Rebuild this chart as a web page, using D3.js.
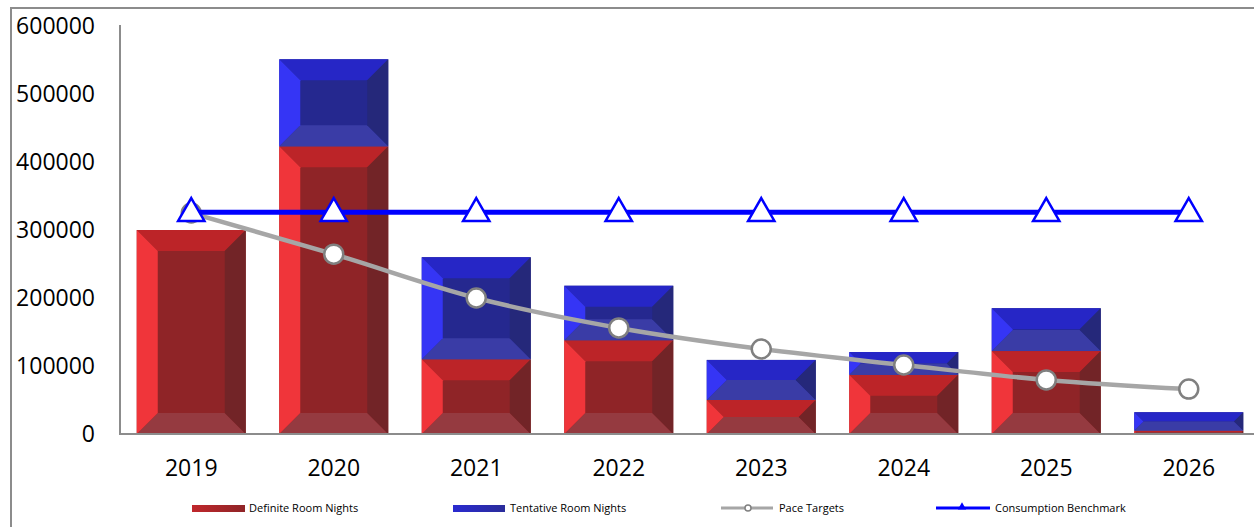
<!DOCTYPE html>
<html>
<head>
    <script src="https://d3js.org/d3.v7.min.js"></script>
    <style>
        body { margin: 0; background: #fff; }
        svg text { font-family: "Open Sans", "Noto Sans", sans-serif; fill: #000; }
        .legend text { font-size: 11px; }
    </style>
    <title>Room nights chart</title>
</head>
<body>
    <svg width="1254" height="527"></svg>
    <script>
        // data
        var years = ["2019", "2020", "2021", "2022", "2023", "2024", "2025", "2026"];
        var definite = [300000, 423000, 110000, 138000, 50000, 87000, 122000, 5000];
        var tentative = [0, 128000, 150000, 80000, 59000, 33500, 63000, 27000];
        var paceTargets = [325000, 264500, 200000, 156000, 125000, 101500, 79500, 66000];
        var benchmark = [326000, 326000, 326000, 326000, 326000, 326000, 326000, 326000];
        var yTicks = [0, 100000, 200000, 300000, 400000, 500000, 600000];

        var svg = d3.select("svg");

        // outer frame
        svg.append("rect")
            .attr("x", 11).attr("y", 8)
            .attr("width", 1300).attr("height", 600)
            .attr("fill", "none")
            .attr("stroke", "#8c8c8c")
            .attr("stroke-width", 2);

        var x = d3.scaleBand().domain(years).range([120, 1260])
            .paddingInner(0.235).paddingOuter(0.1175);
        var y = d3.scaleLinear().domain([0, 600000]).range([434, 26]);

        var red = { left: "#f0353a", top: "#bc2428", mid: "#8f2427", right: "#722427", bottom: "#953a40" };
        var blue = { left: "#3535f5", top: "#2626c6", mid: "#25288f", right: "#25287a", bottom: "#3a3ca6" };

        // beveled block, like the Excel "bevel" effect
        function bevelBlock(g, x0, y0, w, h, c) {
            if (h <= 0) return;
            var b = Math.min(21, h / 2, w / 2);
            var x1 = x0 + w, y1 = y0 + h;
            var pts = function (a) { return a.map(function (p) { return p.join(","); }).join(" "); };
            g.append("rect").attr("x", x0).attr("y", y0).attr("width", w).attr("height", h).attr("fill", c.mid);
            g.append("polygon").attr("fill", c.top)
                .attr("points", pts([[x0, y0], [x1, y0], [x1 - b, y0 + b], [x0 + b, y0 + b]]));
            g.append("polygon").attr("fill", c.bottom)
                .attr("points", pts([[x0, y1], [x1, y1], [x1 - b, y1 - b], [x0 + b, y1 - b]]));
            g.append("polygon").attr("fill", c.left)
                .attr("points", pts([[x0, y0], [x0 + b, y0 + b], [x0 + b, y1 - b], [x0, y1]]));
            g.append("polygon").attr("fill", c.right)
                .attr("points", pts([[x1, y0], [x1 - b, y0 + b], [x1 - b, y1 - b], [x1, y1]]));
        }

        var bars = svg.append("g");
        years.forEach(function (yr, i) {
            var bx = x(yr), bw = x.bandwidth();
            bevelBlock(bars, bx, y(definite[i]), bw, y(0) - y(definite[i]), red);
            var top = definite[i] + tentative[i];
            bevelBlock(bars, bx, y(top), bw, y(definite[i]) - y(top), blue);
        });

        // axes lines
        svg.append("line").attr("x1", 120).attr("x2", 120).attr("y1", 25).attr("y2", 434)
            .attr("stroke", "#8c8c8c").attr("stroke-width", 2);
        svg.append("line").attr("x1", 119).attr("x2", 1260).attr("y1", 434).attr("y2", 434)
            .attr("stroke", "#8c8c8c").attr("stroke-width", 2);

        // y tick labels
        svg.selectAll(".ylab").data(yTicks).enter().append("text")
            .attr("class", "ylab")
            .attr("x", 95)
            .attr("y", function (d) { return y(d); })
            .attr("dy", "0.36em")
            .attr("text-anchor", "end")
            .attr("font-size", "23px")
            .text(function (d) { return d; });

        // x tick labels
        svg.selectAll(".xlab").data(years).enter().append("text")
            .attr("class", "xlab")
            .attr("x", function (d) { return x(d) + x.bandwidth() / 2; })
            .attr("y", 468)
            .attr("dy", "0.36em")
            .attr("text-anchor", "middle")
            .attr("font-size", "23px")
            .text(function (d) { return d; });

        var cx = function (d, i) { return x(years[i]) + x.bandwidth() / 2; };

        // pace targets (smoothed)
        var paceLine = d3.line().x(cx).y(function (d) { return y(d); }).curve(d3.curveMonotoneX);
        svg.append("path").datum(paceTargets).attr("d", paceLine)
            .attr("fill", "none").attr("stroke", "#a6a6a6").attr("stroke-width", 4.5);
        svg.selectAll(".pace").data(paceTargets).enter().append("circle")
            .attr("class", "pace")
            .attr("cx", cx).attr("cy", function (d) { return y(d); })
            .attr("r", 9.5)
            .attr("fill", "#fff").attr("stroke", "#808080").attr("stroke-width", 2.5);

        // consumption benchmark
        var benchLine = d3.line().x(cx).y(function (d) { return y(d); });
        svg.append("path").datum(benchmark).attr("d", benchLine)
            .attr("fill", "none").attr("stroke", "#0000ff").attr("stroke-width", 5);
        var tri = d3.symbol().type(d3.symbolTriangle).size(300);
        svg.selectAll(".bench").data(benchmark).enter().append("path")
            .attr("class", "bench")
            .attr("transform", function (d, i) { return "translate(" + cx(d, i) + "," + (y(d) + 1) + ")"; })
            .attr("d", tri)
            .attr("fill", "#fff").attr("stroke", "#0000ff").attr("stroke-width", 2.5);

        // legend
        var lg = svg.append("g").attr("class", "legend");
        var ly = 508;
        var defs = lg.append("defs");
        var redGrad = defs.append("linearGradient").attr("id", "lgRed");
        redGrad.append("stop").attr("offset", "0").attr("stop-color", "#c0272c");
        redGrad.append("stop").attr("offset", "1").attr("stop-color", "#8f2427");
        var blueGrad = defs.append("linearGradient").attr("id", "lgBlue");
        blueGrad.append("stop").attr("offset", "0").attr("stop-color", "#2a2ad0");
        blueGrad.append("stop").attr("offset", "1").attr("stop-color", "#2a2c9a");

        lg.append("rect").attr("x", 192).attr("y", ly - 3).attr("width", 53).attr("height", 7).attr("fill", "url(#lgRed)");
        lg.append("text").attr("x", 249).attr("y", ly).attr("dy", "0.35em").text("Definite Room Nights");

        lg.append("rect").attr("x", 453).attr("y", ly - 3).attr("width", 52).attr("height", 7).attr("fill", "url(#lgBlue)");
        lg.append("text").attr("x", 510).attr("y", ly).attr("dy", "0.35em").text("Tentative Room Nights");

        lg.append("line").attr("x1", 721).attr("x2", 773).attr("y1", ly).attr("y2", ly)
            .attr("stroke", "#a6a6a6").attr("stroke-width", 3);
        lg.append("circle").attr("cx", 748).attr("cy", ly).attr("r", 3)
            .attr("fill", "#fff").attr("stroke", "#808080").attr("stroke-width", 1.5);
        lg.append("text").attr("x", 779).attr("y", ly).attr("dy", "0.35em").text("Pace Targets");

        lg.append("line").attr("x1", 936).attr("x2", 990).attr("y1", ly).attr("y2", ly)
            .attr("stroke", "#0000ff").attr("stroke-width", 3);
        lg.append("path").attr("transform", "translate(962," + (ly - 1) + ")")
            .attr("d", d3.symbol().type(d3.symbolTriangle).size(30))
            .attr("fill", "#0000ff");
        lg.append("text").attr("x", 995).attr("y", ly).attr("dy", "0.35em").text("Consumption Benchmark");
    </script>
</body>
</html>
